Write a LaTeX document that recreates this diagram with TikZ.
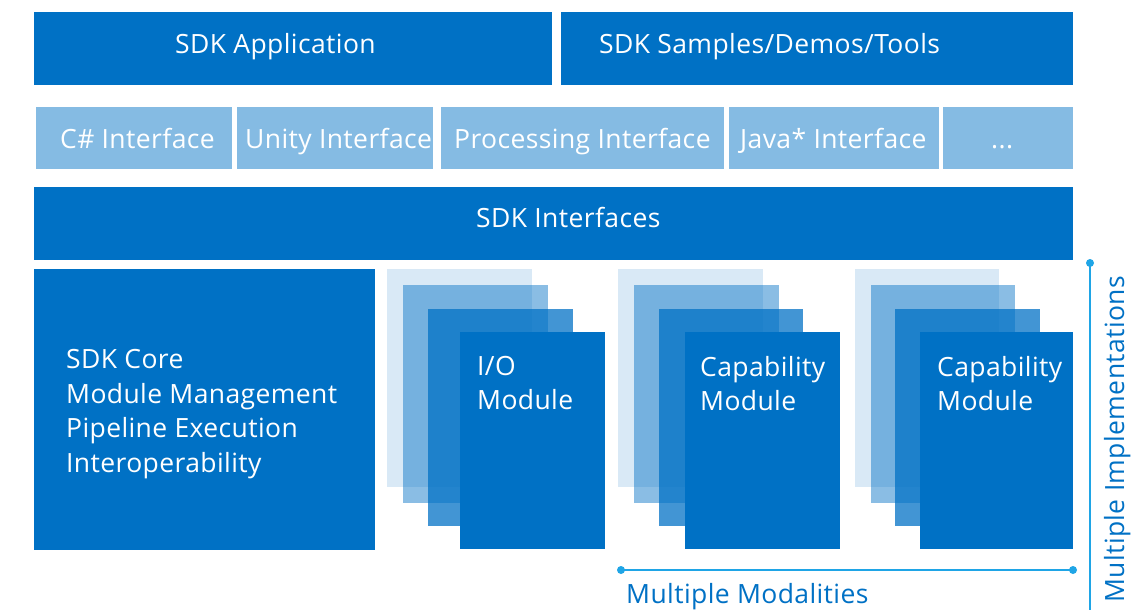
\documentclass[tikz,border=0pt]{standalone}
\usepackage{fontspec}
\setmainfont{Open Sans}[LetterSpace=1.5]
\definecolor{ib}{HTML}{0071C5}
\definecolor{ilight}{HTML}{85BBE3}
\definecolor{icyan}{HTML}{1FA5E6}
\begin{document}
\begin{tikzpicture}[x=1pt,y=-1pt,
  bx/.style n args={2}{fill=ib, draw=none, inner sep=0pt, anchor=north west, minimum width=#1pt, minimum height=#2pt},
  lt/.style n args={2}{fill=ilight, draw=none, inner sep=0pt, anchor=north west, minimum width=#1pt, minimum height=#2pt},
  ly/.style n args={3}{fill=ib, fill opacity=#3, draw=none, inner sep=0pt, anchor=north west, minimum width=#1pt, minimum height=#2pt},
  lbl/.style={text=white, inner sep=0pt, anchor=base west, font=\fontsize{26.5}{31}\selectfont},
  blbl/.style={text=ib, inner sep=0pt, anchor=base west, font=\fontsize{26.5}{31}\selectfont},
  dotnode/.style={circle, fill=icyan, draw=none, inner sep=0pt, minimum size=8pt},
  bracket/.style={draw=icyan, line width=1.8pt}
]
\useasboundingbox (0,0) rectangle (1138,610);
\fill[white] (0,0) rectangle (1138,610);

% top row
\node[bx={518}{73}] (app) at (34,12) {};
\node[bx={512}{73}] (samples) at (561,12) {};
\node[lbl] (tapp) at (175,54) {SDK Application};
\node[lbl] (tsamples) at (599,54) {SDK Samples/Demos/Tools};

% interface row
\node[lt={196}{62}] (cs) at (36,107) {};
\node[lt={196}{62}] (unity) at (237,107) {};
\node[lt={283}{62}] (proc) at (441,107) {};
\node[lt={210}{62}] (java) at (729,107) {};
\node[lt={130}{62}] (more) at (943,107) {};
\node[lbl] (tcs) at (60,148) {C\# Interface};
\node[lbl] (tunity) at (245,148) {Unity Interface};
\node[lbl] (tproc) at (454,148) {Processing Interface};
\node[lbl] (tjava) at (740,148) {Java* Interface};
\node[lbl] (tmore) at (991,148) {...};

% SDK interfaces
\node[bx={1039}{73}] (sdkif) at (34,187) {};
\node[lbl] (tsdkif) at (476,227) {SDK Interfaces};

% core
\node[bx={341}{281}] (core) at (34,269) {};
\node[lbl] (tcore1) at (66,368) {SDK Core};
\node[lbl] (tcore2) at (66,403) {Module Management};
\node[lbl] (tcore3) at (66,437.5) {Pipeline Execution};
\node[lbl] (tcore4) at (66,472) {Interoperability};

% I/O stack
\node[ly={145}{218}{0.15}] (io1) at (387,269) {};
\node[ly={145}{218}{0.46}] (io2) at (403,285) {};
\node[ly={145}{217}{0.74}] (io3) at (428,309) {};
\node[ly={145}{217}{1}] (io4) at (460,332) {};
\node[lbl] (tio1) at (477,375) {I/O};
\node[lbl] (tio2) at (477,409) {Module};

% capability stack 1
\node[ly={145}{218}{0.15}] (ca1) at (618,269) {};
\node[ly={145}{218}{0.46}] (ca2) at (634,285) {};
\node[ly={144}{217}{0.74}] (ca3) at (659,309) {};
\node[ly={155}{217}{1}] (ca4) at (685,332) {};
\node[lbl] (tca1) at (700,376) {Capability};
\node[lbl] (tca2) at (700,410) {Module};

% capability stack 2
\node[ly={144}{218}{0.15}] (cb1) at (855,269) {};
\node[ly={144}{218}{0.46}] (cb2) at (871,285) {};
\node[ly={145}{217}{0.74}] (cb3) at (895,309) {};
\node[ly={153}{217}{1}] (cb4) at (920,332) {};
\node[lbl] (tcb1) at (937,376) {Capability};
\node[lbl] (tcb2) at (937,410) {Module};

% brackets
\node[dotnode] (mL) at (621,570) {};
\node[dotnode] (mR) at (1073,570) {};
\draw[bracket] (mL.center) -- (mR.center);
\node[blbl] (tmod) at (626,603) {Multiple Modalities};

\node[dotnode] (iT) at (1090,263) {};
\coordinate (iB) at (1090,612);
\draw[bracket] (iT.center) -- (iB);
\node[blbl, rotate=90] (timp) at (1124,603) {Multiple Implementations};
\end{tikzpicture}
\end{document}
